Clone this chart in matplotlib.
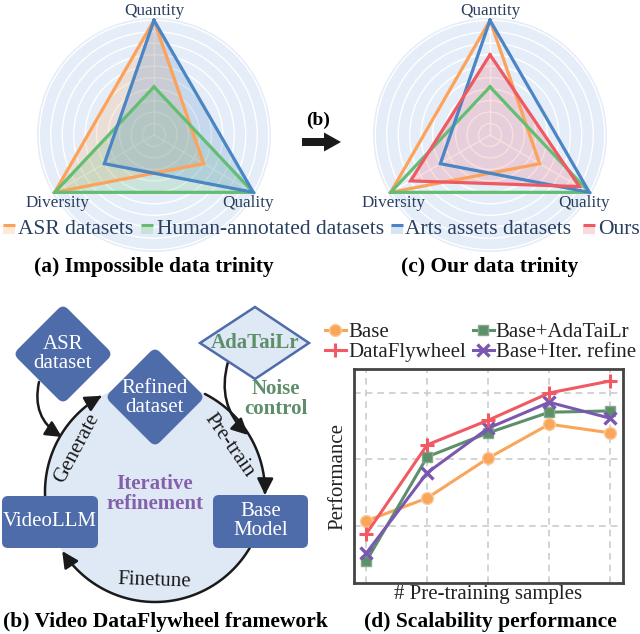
import numpy as np
import matplotlib
matplotlib.use('Agg')
import matplotlib.pyplot as plt
from matplotlib.patches import FancyBboxPatch, Polygon, Circle, FancyArrowPatch, Rectangle, FancyArrow
from matplotlib.path import Path
from matplotlib.transforms import Affine2D
from matplotlib.lines import Line2D

plt.rcParams['font.family'] = ['Liberation Serif', 'DejaVu Serif']

# ---------------- data ----------------
radar_axes = ['Quantity', 'Quality', 'Diversity']
radar_series = ['ASR datasets', 'Human-annotated datasets', 'Arts assets datasets', 'Ours']
asr_vals = [1.0, 0.5, 1.0]
human_vals = [0.42, 1.0, 1.0]
arts_vals = [1.0, 1.0, 0.5]
ours_vals = [0.7, 0.9, 0.8]

x_samples = [0, 1, 2, 3, 4]
base_perf = [1.075, 1.42, 2.02, 2.53, 2.40]
flywheel_perf = [0.88, 2.22, 2.59, 3.00, 3.18]
adatailr_perf = [0.47, 2.04, 2.40, 2.71, 2.73]
iter_perf = [0.59, 1.80, 2.47, 2.86, 2.62]
line_labels = ['Base', 'DataFlywheel', 'Base+AdaTaiLr', 'Base+Iter. refine']

# ---------------- style ----------------
W, H = 640, 634
C_OR, C_GR, C_BL, C_RD = '#fca25a', '#63bd73', '#4a85c4', '#ef5a62'
TXT = '#2a3f5f'
NODE = '#4f6caa'
LIGHT = '#dfe9f6'

fig = plt.figure(figsize=(W / 100, H / 100), dpi=100)


def fig_rect(l, t, w, h):
    return [l / W, 1 - (t + h) / H, w / W, h / H]


angles = np.deg2rad([0, 120, 240])


def radar(cx, cy, series, fill_flags):
    r = 117
    ax = fig.add_axes(fig_rect(cx - r, cy - r, 2 * r, 2 * r), projection='polar')
    ax.set_theta_zero_location('N')
    ax.set_theta_direction(-1)
    ax.set_facecolor('#e5edf8')
    ax.set_ylim(0, 1.02)
    ax.set_yticks(np.arange(0.1, 1.01, 0.1))
    ax.set_yticklabels([])
    ax.set_xticks(angles)
    ax.set_xticklabels([])
    ax.grid(color='white', lw=1.0)
    ax.tick_params(length=0)
    ax.spines['polar'].set_visible(False)
    th = np.concatenate([angles, angles[:1]])
    for (vals, color), fl in zip(series, fill_flags):
        rr = list(vals) + [vals[0]]
        if fl:
            ax.fill(th, rr, color=color, alpha=0.2, lw=0, zorder=2)
        ax.plot(th, rr, color=color, lw=2.3, zorder=3, solid_joinstyle='miter')
    return ax


axA = radar(154, 135, [(asr_vals, C_OR), (human_vals, C_GR), (arts_vals, C_BL)], [True, True, True])
axC = radar(490, 135, [(asr_vals, C_OR), (human_vals, C_GR), (arts_vals, C_BL), (ours_vals, C_RD)],
            [False, False, False, True])

# ---------------- line chart (d) ----------------
axD = fig.add_axes(fig_rect(354, 369, 269, 214))
axD.plot(x_samples, base_perf, color='#f9a65a', lw=2.2, marker='o', ms=8.5, mec='#fcc898', mew=1.0, label=line_labels[0], zorder=3)
axD.plot(x_samples, flywheel_perf, color='#ef5a63', lw=2.2, marker='+', ms=10, mew=2.2, label=line_labels[1], zorder=4)
axD.plot(x_samples, adatailr_perf, color='#5d8f68', lw=2.2, marker='s', ms=7, mec='#85aa8c', mew=1.0, label=line_labels[2], zorder=3)
axD.plot(x_samples, iter_perf, color='#7a58b0', lw=2.2, marker='x', ms=8, mew=2.4, label=line_labels[3], zorder=3)
axD.set_xlim(-0.2, 4.21)
axD.set_ylim(0.143, 3.36)
axD.set_xticks(x_samples)
axD.set_yticks([1, 2, 3])
axD.tick_params(length=0, labelbottom=False, labelleft=False)
axD.grid(True, ls=(0, (4, 3)), color='#cccccc', lw=1.2)
for s in axD.spines.values():
    s.set_color('#444444')
    s.set_linewidth(2.0)
axD.set_ylabel('Performance', fontsize=15, color='#222222', va='center')
axD.yaxis.set_label_coords((338 - 354) / 269, 0.5)
axD.set_xlabel('# Pre-training samples', fontsize=15, color='#222222', va='center')
axD.xaxis.set_label_coords(0.5, -(595 - 583) / 214)
h, l = axD.get_legend_handles_labels()
fig.legend(h, l, ncol=2, loc='center left', bbox_to_anchor=(325 / W, 1 - 342.5 / H), frameon=False,
           fontsize=15, handlelength=1.0, handletextpad=0.1, columnspacing=0.35, labelspacing=0.02,
           borderpad=0, borderaxespad=0, labelcolor='#222222', numpoints=1)

# ---------------- overlay (diagram, texts) ----------------
ov = fig.add_axes([0, 0, 1, 1], zorder=10)
ov.set_xlim(0, W)
ov.set_ylim(H, 0)
ov.axis('off')
ov.patch.set_alpha(0)

# radar axis labels
for cx in (154, 490):
    ov.text(cx, 11, radar_axes[0], ha='center', va='center', fontsize=12.3, color=TXT)
    ov.text(cx - 96, 203, radar_axes[2], ha='center', va='center', fontsize=12.3, color=TXT)
    ov.text(cx + 94, 203, radar_axes[1], ha='center', va='center', fontsize=12.3, color=TXT)

# radar legend
leg_items = [(3, 18, C_OR), (141, 157, C_GR), (391, 405, C_BL), (583, 598, C_RD)]
for (mx, tx, col), lab in zip(leg_items, radar_series):
    ov.add_patch(Rectangle((mx, 225), 12, 9, fc=col, alpha=0.22, lw=0))
    ov.plot([mx, mx + 12], [225, 225], color=col, lw=2.2, solid_capstyle='butt')
    ov.text(tx, 230, lab, ha='left', va='center', fontsize=15.5, color=TXT)

# titles
ov.text(154, 267, '(a) Impossible data trinity', ha='center', va='center', fontsize=15.5, fontweight='bold')
ov.text(490, 267, '(c) Our data trinity', ha='center', va='center', fontsize=15.5, fontweight='bold')
ov.text(165, 622, '(b) Video DataFlywheel framework', ha='center', va='center', fontsize=15.5, fontweight='bold')
ov.text(490, 622, '(d) Scalability performance', ha='center', va='center', fontsize=15.5, fontweight='bold')

# (b) arrow
ov.text(318, 120, '(b)', ha='center', va='center', fontsize=14, fontweight='bold')
ov.add_patch(FancyArrow(302, 142, 39, 0, width=8, head_width=19, head_length=17,
                        length_includes_head=True, fc='#1a1a1a', ec='none'))

# diagram circle
CX, CY, R = 155, 492, 110
ov.add_patch(Circle((CX, CY), R, fc=LIGHT, ec='none', zorder=1))


def arc_arrow(t0, t1):
    t = np.deg2rad(np.linspace(t0, t1, 60))
    pts = np.column_stack([CX + R * np.cos(t), CY + R * np.sin(t)])
    p = Path(pts)
    a = FancyArrowPatch(path=p, arrowstyle='-|>,head_length=0.7,head_width=0.35', mutation_scale=14,
                        color='#1a1a1a', lw=1.8, zorder=2)
    ov.add_patch(a)


arc_arrow(178, 241)
arc_arrow(297, 361.5)
arc_arrow(30.5, 147.5)

for (p0, p1, rad) in [((39, 382), (62, 437), 0.35), ((228, 362), (248, 435), 0.3)]:
    ov.add_patch(FancyArrowPatch(p0, p1, connectionstyle=f'arc3,rad={rad}',
                                 arrowstyle='-|>,head_length=0.7,head_width=0.35', mutation_scale=14,
                                 color='#1a1a1a', lw=1.8, zorder=2, shrinkA=0, shrinkB=0))


def rdiamond(cx, cy, half=50, rnd=7):
    s = half * np.sqrt(2)
    p = FancyBboxPatch((cx - s / 2, cy - s / 2), s, s, boxstyle=f'round,pad=0,rounding_size={rnd}',
                       fc=NODE, ec='none', zorder=3)
    p.set_transform(Affine2D().rotate_deg_around(cx, cy, 45) + ov.transData)
    ov.add_patch(p)


rdiamond(63, 354)
rdiamond(155, 397)
ov.add_patch(FancyBboxPatch((2, 496), 96, 52, boxstyle='round,pad=0,rounding_size=6', fc=NODE, ec='none', zorder=3))
ov.add_patch(FancyBboxPatch((213, 495), 95, 53, boxstyle='round,pad=0,rounding_size=6', fc=NODE, ec='none', zorder=3))
ov.add_patch(Polygon([(200, 343), (255, 307), (309, 343), (255, 379)], closed=True, fc=LIGHT, ec=NODE, lw=1.8, zorder=3))

ov.text(63, 354, 'ASR\ndataset', ha='center', va='center', fontsize=15, color='white', linespacing=0.95, zorder=4)
ov.text(155, 398, 'Refined\ndataset', ha='center', va='center', fontsize=15, color='white', linespacing=0.95, zorder=4)
ov.text(50, 522, 'VideoLLM', ha='center', va='center', fontsize=15, color='white', zorder=4)
ov.text(261, 521, 'Base\nModel', ha='center', va='center', fontsize=15, color='white', linespacing=0.95, zorder=4)
ov.text(255, 343, 'AdaTaiLr', ha='center', va='center', fontsize=15, color='#5e8f6a', fontweight='bold', zorder=4)
ov.text(276, 399, 'Noise\ncontrol', ha='center', va='center', fontsize=15, color='#5e8f6a', fontweight='bold', linespacing=0.95, zorder=4)
ov.text(155, 494, 'Iterative\nrefinement', ha='center', va='center', fontsize=15, color='#8560aa', fontweight='bold', linespacing=0.95, zorder=4)
ov.text(77, 448, 'Generate', ha='center', va='center', fontsize=15, color='#1a1a1a', rotation=62, rotation_mode='anchor', zorder=4)
ov.text(229, 445, 'Pre-train', ha='center', va='center', fontsize=15, color='#1a1a1a', rotation=-55, rotation_mode='anchor', zorder=4)
ov.text(154, 581, 'Finetune', ha='center', va='center', fontsize=15, color='#1a1a1a', rotation=-2, rotation_mode='anchor', zorder=4)

fig.savefig('out.png', dpi=100)
